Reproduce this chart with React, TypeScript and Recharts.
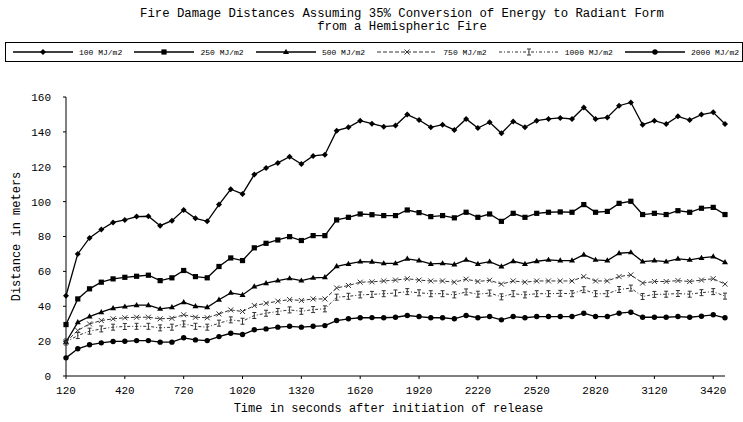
import { Legend, Line, LineChart, XAxis, YAxis } from "recharts";

const FONT = '"Liberation Mono", "DejaVu Sans Mono", monospace';

// seconds after release, one reading per minute
const TIMES = [
    120, 180, 240, 300, 360, 420, 480, 540, 600, 660, 720, 780, 840, 900, 960,
    1020, 1080, 1140, 1200, 1260, 1320, 1380, 1440, 1500, 1560, 1620, 1680, 1740,
    1800, 1860, 1920, 1980, 2040, 2100, 2160, 2220, 2280, 2340, 2400, 2460, 2520,
    2580, 2640, 2700, 2760, 2820, 2880, 2940, 3000, 3060, 3120, 3180, 3240, 3300,
    3360, 3420, 3480,
];

const X_TICKS = [120, 420, 720, 1020, 1320, 1620, 1920, 2220, 2520, 2820, 3120, 3420];
const Y_TICKS = [0, 20, 40, 60, 80, 100, 120, 140, 160];

const D100 = [
    46, 70, 79.2, 84, 88.1, 89.5, 91.4, 91.6, 86.2, 89.1,
    95.2, 90.4, 88.7, 98.3, 107.1, 104.4, 115.5, 119.3, 122.2, 125.8,
    121.6, 126.2, 126.9, 140.7, 142.6, 146.4, 144.7, 143, 143.6, 149.9,
    146.8, 142.6, 144.1, 141.1, 147.4, 142.2, 145.5, 139.2, 146, 142.6,
    146.4, 147.4, 148, 147.4, 154, 147.4, 148.3, 155, 156.9, 144.1,
    146.4, 144.5, 148.9, 146.8, 149.9, 151.2, 144.5,
];

const D250 = [
    29.5, 44.2, 50, 53.8, 55.7, 56.6, 57.2, 57.8, 54.7, 56.3,
    60.5, 57, 56.3, 62.8, 67.7, 66.2, 73.5, 76.1, 78, 79.9,
    77.7, 80.5, 80.5, 89.5, 91, 92.9, 92.5, 92, 92, 95.2,
    93.7, 91.4, 92, 90.7, 93.9, 91, 92.9, 88.7, 93.3, 91,
    93.3, 93.9, 94.1, 93.9, 98.3, 93.9, 94.4, 99, 100.2, 92.6,
    93.3, 92.6, 94.8, 93.9, 96.2, 96.7, 92.6,
];

const D500 = [
    19.5, 30.8, 34.1, 36.6, 38.9, 39.8, 40.6, 40.6, 38.5, 39.4,
    42.3, 40, 39.4, 43.7, 47.7, 46.5, 51.3, 53.2, 54.7, 56,
    54.7, 56.3, 56.6, 62.9, 64.3, 65.6, 65.5, 64.6, 64.6, 67.2,
    66.2, 64.3, 64.6, 63.9, 66.6, 64.3, 65.6, 62.8, 65.8, 64.3,
    65.8, 66.6, 66.2, 66.2, 69.6, 66.6, 66.2, 70.4, 70.9, 65.6,
    66.2, 65.6, 67.2, 66.6, 67.7, 68.5, 65.2,
];

const D750 = [
    19.5, 26.1, 29.9, 31.8, 32.8, 33.4, 33.7, 33.7, 32.8, 33.1,
    35.1, 33.7, 33.4, 35.6, 37.9, 37, 40.4, 41.7, 42.9, 43.8,
    43.3, 44.2, 44.2, 50.5, 51.9, 53.8, 54, 54.5, 55, 55.8,
    55, 54.5, 54.5, 53.8, 55.5, 54.2, 54.9, 52.7, 54.5, 53.8,
    54.5, 54.5, 54.5, 54.5, 57, 54.5, 54.5, 57, 58, 53.3,
    54.2, 54.2, 54.7, 54.2, 55, 55.8, 52.7,
];

const D1000 = [
    19.5, 23.2, 25.7, 27, 28, 28.4, 28.5, 28.5, 27.6, 28,
    29.9, 28.5, 28, 30.3, 32.2, 31.4, 34.7, 36, 37, 37.9,
    37.1, 38.1, 38.5, 45.2, 45.7, 46.5, 46.8, 47.2, 47.6, 48.4,
    47.7, 47.2, 47.2, 46.5, 48.2, 46.9, 47.6, 45.4, 47.2, 46.5,
    47.2, 47.2, 47.4, 47.2, 49.5, 47.2, 47.2, 49.6, 50.4, 45.6,
    46.8, 46.9, 47.3, 46.9, 47.8, 48.4, 45.8,
];

const D2000 = [
    10.4, 15.6, 17.9, 19, 19.8, 19.9, 20.3, 20.3, 19.4, 19.4,
    21.9, 20.7, 20.3, 22.6, 24.5, 23.8, 26.5, 27, 28, 28.5,
    28, 28.5, 28.9, 31.8, 32.8, 33.4, 33.5, 33.4, 33.7, 34.7,
    34.1, 33.4, 33.4, 32.8, 34.7, 33.4, 34.1, 32.2, 34.1, 33.4,
    34.1, 34.1, 34.1, 34.1, 36, 34.1, 34.1, 36, 36.6, 33.7,
    33.7, 33.7, 34.1, 33.7, 34.3, 35.1, 33.4,
];

type Shape = "diamond" | "square" | "triangle" | "x" | "ibar" | "circle";

const SERIES: { key: string; name: string; values: number[]; shape: Shape; dash?: string; width: number; color: string }[] = [
    { key: "d100", name: "100 MJ/m2", values: D100, shape: "diamond", width: 1.3, color: "#000" },
    { key: "d250", name: "250 MJ/m2", values: D250, shape: "square", width: 1.3, color: "#000" },
    { key: "d500", name: "500 MJ/m2", values: D500, shape: "triangle", width: 1.3, color: "#000" },
    { key: "d750", name: "750 MJ/m2", values: D750, shape: "x", dash: "4 2", width: 1, color: "#333" },
    { key: "d1000", name: "1000 MJ/m2", values: D1000, shape: "ibar", dash: "3 2 1 2", width: 1, color: "#333" },
    { key: "d2000", name: "2000 MJ/m2", values: D2000, shape: "circle", width: 1.3, color: "#000" },
];

const data = TIMES.map((t, i) => {
    const row: Record<string, number> = { t };
    SERIES.forEach(s => { row[s.key] = s.values[i]; });
    return row;
});

const Marker = ({ cx, cy, shape, color }: { cx: number; cy: number; shape: Shape; color: string }) => {
    switch (shape) {
        case "diamond":
            return <path d={`M${cx},${cy - 3}L${cx + 3},${cy}L${cx},${cy + 3}L${cx - 3},${cy}Z`} fill={color} />;
        case "square":
            return <rect x={cx - 2.6} y={cy - 2.6} width={5.2} height={5.2} fill={color} />;
        case "triangle":
            return <path d={`M${cx},${cy - 3.2}L${cx + 3},${cy + 2}L${cx - 3},${cy + 2}Z`} fill={color} />;
        case "x":
            return <path d={`M${cx - 2.5},${cy - 2.5}L${cx + 2.5},${cy + 2.5}M${cx + 2.5},${cy - 2.5}L${cx - 2.5},${cy + 2.5}`}
                         stroke={color} strokeWidth={1} fill="none" />;
        case "ibar":
            return <path d={`M${cx - 2},${cy - 3}H${cx + 2}M${cx},${cy - 3}V${cy + 3}M${cx - 2},${cy + 3}H${cx + 2}`}
                         stroke={color} strokeWidth={1} fill="none" />;
        default:
            return <circle cx={cx} cy={cy} r={2.7} fill={color} />;
    }
};

const LegendBox = () => (
    <div style={{
        boxSizing: "border-box", height: 20, width: 738, border: "1px solid #000", display: "flex",
        alignItems: "center", justifyContent: "space-between", padding: "0 3px 0 7px",
        fontFamily: FONT, fontSize: 8, color: "#000", whiteSpace: "nowrap",
    }}>
        {SERIES.map(s => (
            <div key={s.key} style={{ display: "flex", alignItems: "center" }}>
                <svg width={60} height={10}>
                    <line x1={0} y1={5} x2={60} y2={5} stroke={s.color} strokeWidth={s.width}
                          strokeDasharray={s.dash} />
                    <Marker cx={30} cy={5} shape={s.shape} color={s.color} />
                </svg>
                <span style={{ marginLeft: 6 }}>{s.name}</span>
            </div>
        ))}
    </div>
);

export default function App() {
    return (
        <div style={{ position: "absolute", left: 0, top: 0, width: 743, height: 422, background: "#fff", overflow: "hidden" }}>
            <div style={{
                position: "absolute", top: 8, left: 0, width: 743, paddingLeft: 61, boxSizing: "border-box",
                textAlign: "center", fontFamily: FONT, fontSize: 12.3, lineHeight: "13px", color: "#000",
            }}>
                <div>Fire Damage Distances Assuming 35% Conversion of Energy to Radiant Form</div>
                <div>from a Hemispheric Fire</div>
            </div>
            <LineChart width={743} height={422} data={data}
                       margin={{ top: 77, right: 18, bottom: 0, left: 0 }}>
                <XAxis dataKey="t" type="number" domain={[120, 3480]} ticks={X_TICKS}
                       height={46} stroke="#000" tickSize={3} tickMargin={7}
                       tick={{ fill: "#000", fontSize: 11, fontFamily: FONT }}
                       label={{ value: "Time in seconds after initiation of release", position: "insideBottom",
                           offset: 10, dx: -7, fill: "#000", fontSize: 12, fontFamily: FONT }} />
                <YAxis type="number" domain={[0, 160]} ticks={Y_TICKS} width={66} stroke="#000"
                       tickSize={3} tickMargin={12}
                       tick={{ fill: "#000", fontSize: 11, fontFamily: FONT }}
                       label={{ value: "Distance in meters", angle: -90, position: "insideLeft", offset: 16,
                           fill: "#000", fontSize: 12, fontFamily: FONT, style: { textAnchor: "middle" } }} />
                <Legend verticalAlign="top" align="left"
                        wrapperStyle={{ top: 42, left: 5, width: 738, height: 20 }}
                        content={() => <LegendBox />} />
                {SERIES.map(s => (
                    <Line key={s.key} dataKey={s.key} name={s.name} type="linear"
                          stroke={s.color} strokeWidth={s.width} strokeDasharray={s.dash}
                          isAnimationActive={false} activeDot={false}
                          dot={(p: any) => (
                              <Marker key={`${s.key}-${p.index}`} cx={p.cx} cy={p.cy}
                                      shape={s.shape} color={s.color} />
                          )} />
                ))}
            </LineChart>
        </div>
    );
}
